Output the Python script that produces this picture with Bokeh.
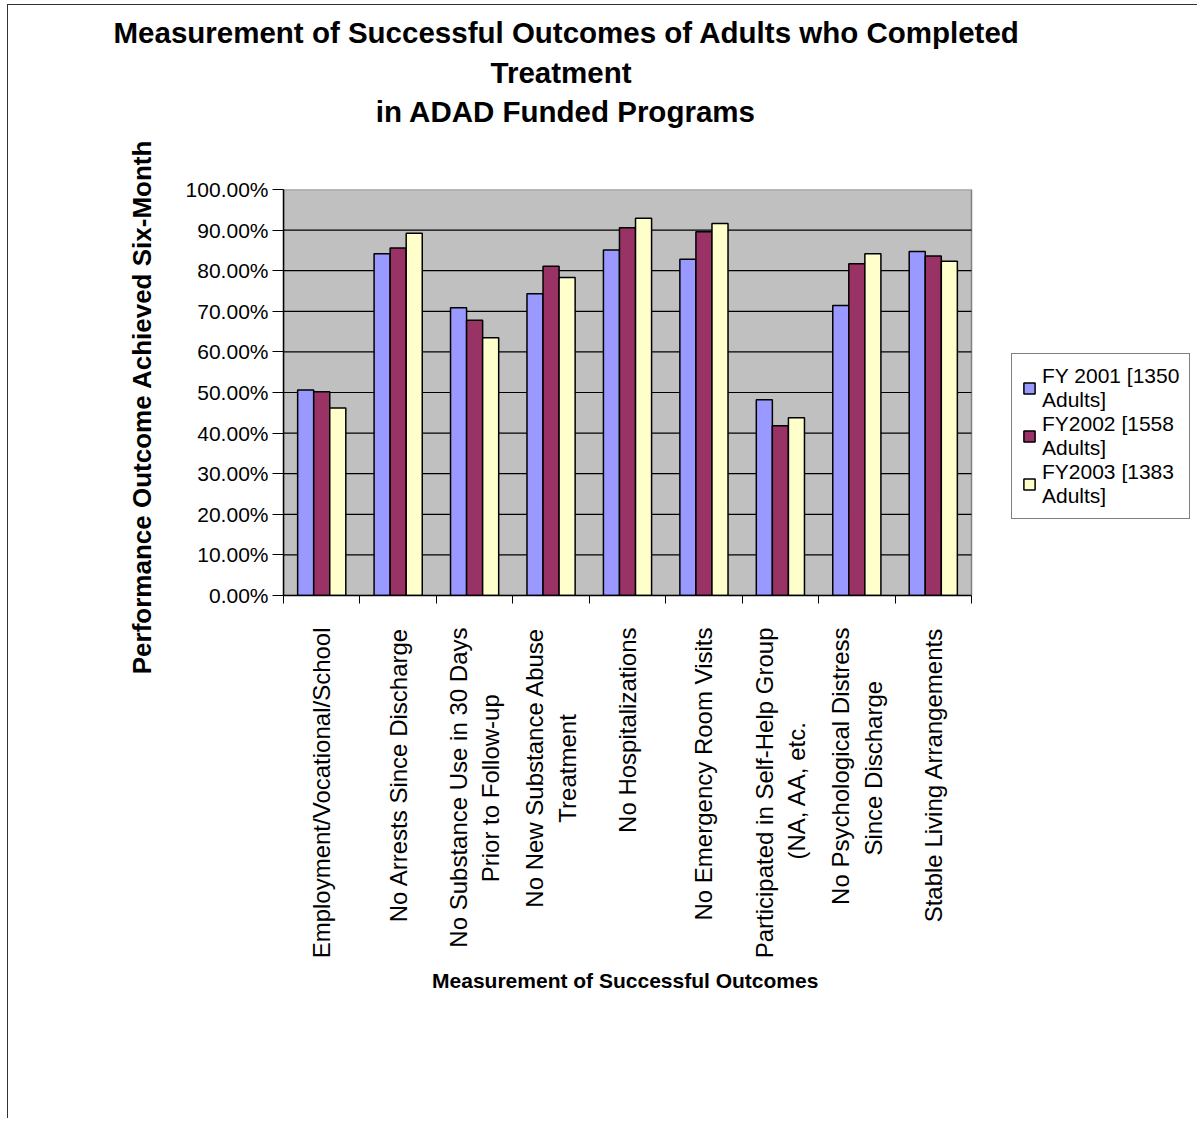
import math
from bokeh.plotting import figure
from bokeh.models import (ColumnDataSource, Range1d, FixedTicker, NumeralTickFormatter,
                          Legend, LegendItem, Title)
from bokeh.transform import dodge
from bokeh.embed import file_html
from bokeh.resources import INLINE

categories = [
    "Employment/Vocational/School",
    "No Arrests Since Discharge",
    "No Substance Use in 30 Days\nPrior to Follow-up",
    "No New Substance Abuse\nTreatment",
    "No Hospitalizations",
    "No Emergency Room Visits",
    "Participated in Self-Help Group\n(NA, AA, etc.",
    "No Psychological Distress\nSince Discharge",
    "Stable Living Arrangements",
]
fy2001 = [0.506, 0.842, 0.709, 0.743, 0.851, 0.828, 0.482, 0.714, 0.847]
fy2002 = [0.502, 0.856, 0.678, 0.811, 0.906, 0.896, 0.418, 0.817, 0.836]
fy2003 = [0.462, 0.892, 0.635, 0.783, 0.929, 0.916, 0.438, 0.842, 0.823]
series_labels = ["FY 2001 [1350\nAdults]", "FY2002 [1558\nAdults]", "FY2003 [1383\nAdults]"]
series_colors = ["#9999FF", "#993366", "#FFFFCC"]
y_ticks = [0.0, 0.1, 0.2, 0.3, 0.4, 0.5, 0.6, 0.7, 0.8, 0.9, 1.0]
title_lines = ["Measurement of Successful Outcomes of Adults who Completed",
               "Treatment",
               "in ADAD Funded Programs"]
x_title = "Measurement of Successful Outcomes"
y_title = "Performance Outcome Achieved Six-Month"

FONT = "Liberation Sans"
NBSP = "\u00a0"

# ---- layout constants (pixels) ----
FIG_W, FIG_H = 1190, 1114
BORDER_L, BORDER_R, BORDER_T, BORDER_B = 275, 4, 184, 524
PLOT_AREA_W = 688                      # width of the grey plot area
FRAME_W = FIG_W - BORDER_L - BORDER_R  # frame also hosts the legend on the right
TITLE_LEAD = [0, 46, 32]               # no-break spaces that centre the title lines
TITLE_OFFSET = -170
XLABEL_TRAIL = 39                      # no-break spaces that centre the x title on the plot area

# approximate Arial advance widths (per 1000 em) used to centre wrapped tick labels
_W = {" ": 278, "(": 333, ")": 333, ",": 278, ".": 278, "-": 333, "/": 278,
      "A": 667, "D": 722, "E": 667, "F": 611, "G": 778, "H": 722, "L": 556, "N": 722,
      "P": 667, "R": 722, "S": 667, "T": 611, "U": 722, "V": 667,
      "a": 556, "b": 556, "c": 500, "d": 556, "e": 556, "f": 278, "g": 556, "h": 556,
      "i": 222, "j": 222, "k": 500, "l": 222, "m": 833, "n": 556, "o": 556, "p": 556,
      "r": 333, "s": 500, "t": 278, "u": 556, "v": 500, "w": 722, "x": 500, "y": 500, "z": 500}


def _width(s):
    return sum(_W.get(ch, 556) for ch in s)


def centre_lines(label):
    lines = label.split("\n")
    if len(lines) == 1:
        return label
    wmax = max(_width(l) for l in lines)
    padded = []
    for l in lines:
        pad = int(round((wmax - _width(l)) / 2 / 278))
        padded.append(l + NBSP * pad)
    return "\n".join(padded)


n = len(categories)
idx = list(range(n))
source = ColumnDataSource(dict(x=idx, fy2001=fy2001, fy2002=fy2002, fy2003=fy2003))

x_start, x_stop = -0.5, n - 0.5
x_end = x_start + n * FRAME_W / PLOT_AREA_W

p = figure(
    width=FIG_W, height=FIG_H,
    x_range=Range1d(x_start, x_end), y_range=Range1d(y_ticks[0], y_ticks[-1]),
    output_backend="svg", toolbar_location=None,
    min_border_left=BORDER_L, min_border_right=BORDER_R,
    min_border_top=BORDER_T, min_border_bottom=BORDER_B,
    background_fill_color="white", border_fill_color="white",
    outline_line_color=None, title=None,
)
p.styles = {"margin-left": "7px", "margin-top": "4px",
            "border-left": "1.5px solid #333", "border-top": "1.5px solid #333"}

# spacer between frame and title (innermost "above" panel), then the title block
p.add_layout(Title(text=NBSP, text_font_size="10px", standoff=46, text_color="white"), "above")
title_text = "\n".join(NBSP * a + line for line, a in zip(title_lines, TITLE_LEAD))
p.add_layout(Title(text=title_text, align="left", offset=TITLE_OFFSET, standoff=4,
                   text_font=FONT, text_font_size="29.5px", text_font_style="bold",
                   text_color="black", text_line_height=1.2), "above")

# grey plot area with grey top/right border
p.quad(left=[x_start], right=[x_stop], bottom=[y_ticks[0]], top=[y_ticks[-1]],
       fill_color="#C0C0C0", line_color="#808080", line_width=1.5)
# horizontal gridlines limited to the plot area
p.segment(x0=[x_start] * (len(y_ticks) - 2), x1=[x_stop] * (len(y_ticks) - 2),
          y0=y_ticks[1:-1], y1=y_ticks[1:-1], line_color="black", line_width=1.2)

bw = 0.21
renderers = []
for k, (col, off) in enumerate([("fy2001", -bw), ("fy2002", 0.0), ("fy2003", bw)]):
    r = p.vbar(x=dodge("x", off, range=p.x_range), top=col, width=bw, source=source,
               fill_color=series_colors[k], line_color="black", line_width=1.5)
    renderers.append(r)

# x axis
xa = p.xaxis[0]
xa.bounds = (x_start, x_stop)
xa.ticker = FixedTicker(ticks=idx, minor_ticks=[i - 0.5 for i in range(n + 1)])
xa.major_label_overrides = {i: centre_lines(c) for i, c in enumerate(categories)}
xa.major_label_orientation = math.pi / 2
xa.major_tick_out = 0
xa.major_tick_in = 0
xa.minor_tick_out = 8
xa.minor_tick_in = 0
xa.minor_tick_line_color = "black"
xa.major_label_standoff = 24
xa.major_label_text_font = FONT
xa.major_label_text_font_size = "24px"
xa.major_label_text_color = "black"
xa.major_label_text_line_height = 1.2
xa.axis_line_color = "black"
xa.axis_line_width = 1.5
xa.axis_label = x_title + NBSP * XLABEL_TRAIL
xa.axis_label_text_font = FONT
xa.axis_label_text_font_size = "21px"
xa.axis_label_text_font_style = "bold"
xa.axis_label_text_color = "black"
xa.axis_label_standoff = 8

# y axis
ya = p.yaxis[0]
ya.ticker = FixedTicker(ticks=y_ticks)
ya.formatter = NumeralTickFormatter(format="0.00%")
ya.major_tick_out = 11
ya.major_tick_in = 0
ya.minor_tick_out = 0
ya.minor_tick_in = 0
ya.major_label_standoff = 4
ya.major_label_text_font = FONT
ya.major_label_text_font_size = "21px"
ya.major_label_text_color = "black"
ya.axis_line_color = "black"
ya.axis_line_width = 1.5
ya.axis_label = y_title + NBSP * 4
ya.axis_label_text_font = FONT
ya.axis_label_text_font_size = "26px"
ya.axis_label_text_font_style = "bold"
ya.axis_label_text_color = "black"
ya.axis_label_standoff = 26

p.xgrid.visible = False
p.ygrid.visible = False

legend = Legend(
    items=[LegendItem(label=series_labels[k], renderers=[renderers[k]]) for k in range(3)],
    location=(PLOT_AREA_W + 40, 76),
    border_line_color="black", border_line_width=1.2,
    background_fill_color="white", background_fill_alpha=1.0,
    label_text_font=FONT, label_text_font_size="21px", label_text_line_height=1.2,
    label_text_color="black",
    glyph_width=14, glyph_height=14, label_standoff=6, spacing=0, padding=10, margin=0,
)
p.add_layout(legend)

open("out.html", "w").write(file_html(p, INLINE))
